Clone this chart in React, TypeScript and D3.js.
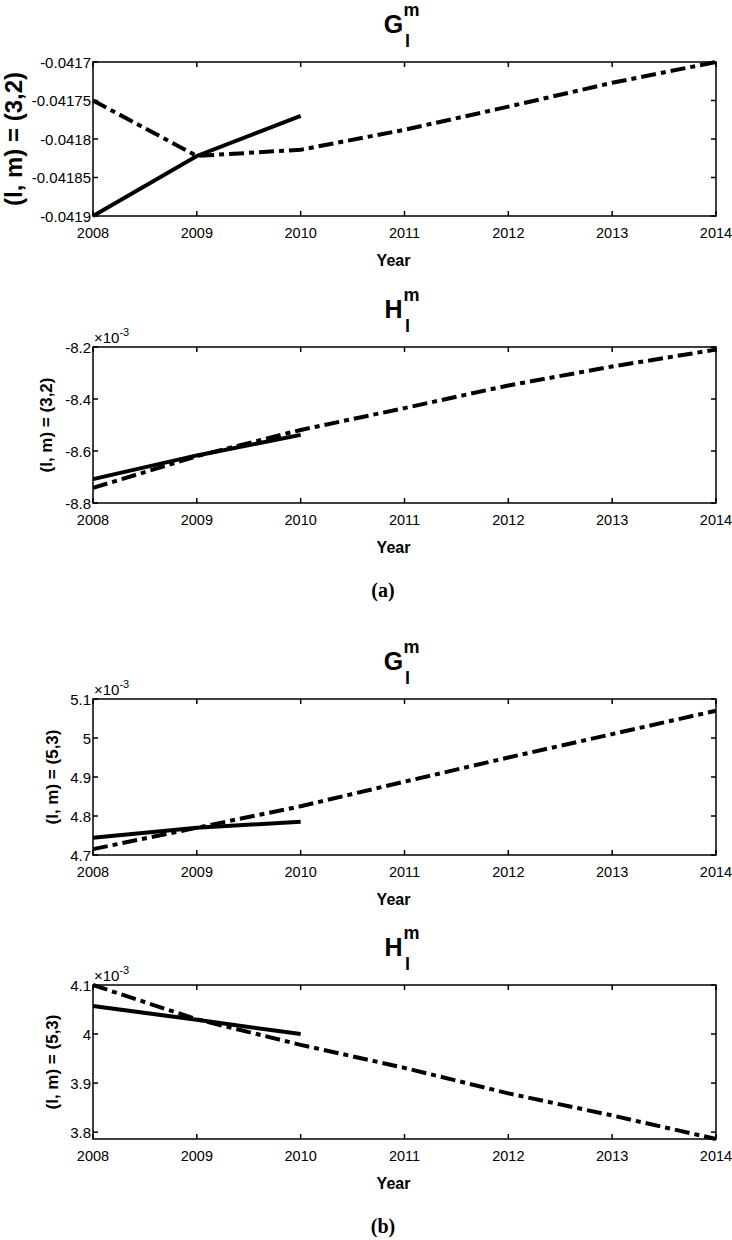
import React from "react";
import * as d3 from "d3";

const years = [2008, 2009, 2010, 2011, 2012, 2013, 2014];
const shortYears = [2008, 2009, 2010];
const xTickLabels = ["2008", "2009", "2010", "2011", "2012", "2013", "2014"];

// (l,m) = (3,2), G
const g32Solid = [-0.0419, -0.041822, -0.04177];
const g32Dash = [-0.04175, -0.041822, -0.041814, -0.041788, -0.041758, -0.041727, -0.0417];
const g32Ticks = [-0.0419, -0.04185, -0.0418, -0.04175, -0.0417];
const g32TickLabels = ["-0.0419", "-0.04185", "-0.0418", "-0.04175", "-0.0417"];

// (l,m) = (3,2), H  (x10^-3)
const h32Solid = [-8.708, -8.617, -8.538];
const h32Dash = [-8.742, -8.62, -8.519, -8.435, -8.348, -8.275, -8.21];
const h32Ticks = [-8.8, -8.6, -8.4, -8.2];
const h32TickLabels = ["-8.8", "-8.6", "-8.4", "-8.2"];

// (l,m) = (5,3), G  (x10^-3)
const g53Solid = [4.744, 4.77, 4.785];
const g53Dash = [4.715, 4.77, 4.825, 4.888, 4.95, 5.01, 5.07];
const g53Ticks = [4.7, 4.8, 4.9, 5.0, 5.1];
const g53TickLabels = ["4.7", "4.8", "4.9", "5", "5.1"];

// (l,m) = (5,3), H  (x10^-3)
const h53Solid = [4.057, 4.029, 4.0];
const h53Dash = [4.1, 4.03, 3.978, 3.931, 3.879, 3.834, 3.786];
const h53Ticks = [3.8, 3.9, 4.0, 4.1];
const h53TickLabels = ["3.8", "3.9", "4", "4.1"];

const FONT = "'Liberation Sans', Arial, Helvetica, sans-serif";

type PanelProps = {
  top: number;
  bottom: number;
  yDomain: [number, number];
  ticks: number[];
  tickLabels: string[];
  solid: number[];
  dash: number[];
  title: string;
  yLabel: string;
  yLabelSize: number;
  yLabelX: number;
  exponent: boolean;
};

const LEFT = 93;
const RIGHT = 716;

function Panel(p: PanelProps) {
  const x = d3.scaleLinear().domain([2008, 2014]).range([LEFT, RIGHT]);
  const y = d3.scaleLinear().domain(p.yDomain).range([p.bottom, p.top]);
  const line = d3
    .line<[number, number]>()
    .x((d) => x(d[0]))
    .y((d) => y(d[1]));
  const solidPts = shortYears.map((yr, i) => [yr, p.solid[i]] as [number, number]);
  const dashPts = years.map((yr, i) => [yr, p.dash[i]] as [number, number]);
  const tl = 5;
  const cx = (LEFT + RIGHT) / 2;
  return (
    <g>
      {/* title */}
      <text x={cx - 11} y={p.top - 29} fontFamily={FONT} fontWeight="bold" fontSize={25} textAnchor="middle">
        {p.title}
      </text>
      <text x={cx - 1} y={p.top - 46} fontFamily={FONT} fontWeight="bold" fontSize={18}>
        m
      </text>
      <text x={cx + 0.5} y={p.top - 15} fontFamily={FONT} fontWeight="bold" fontSize={18}>
        l
      </text>
      {/* data */}
      <path d={line(dashPts) || ""} fill="none" stroke="#000" strokeWidth={4} strokeDasharray="15,5,5,5" />
      <path d={line(solidPts) || ""} fill="none" stroke="#000" strokeWidth={4} />
      {/* frame */}
      <rect x={LEFT} y={p.top} width={RIGHT - LEFT} height={p.bottom - p.top} fill="none" stroke="#000" strokeWidth={1.5} />
      {years.map((yr, i) => (
        <g key={"xt" + yr}>
          <line x1={x(yr)} x2={x(yr)} y1={p.bottom} y2={p.bottom - tl} stroke="#000" strokeWidth={1.5} />
          <line x1={x(yr)} x2={x(yr)} y1={p.top} y2={p.top + tl} stroke="#000" strokeWidth={1.5} />
          <text x={x(yr)} y={p.bottom + 22} fontFamily={FONT} fontSize={14.5} textAnchor="middle">
            {xTickLabels[i]}
          </text>
        </g>
      ))}
      {p.ticks.map((t, i) => (
        <g key={"yt" + i}>
          <line x1={LEFT} x2={LEFT + tl} y1={y(t)} y2={y(t)} stroke="#000" strokeWidth={1.5} />
          <line x1={RIGHT} x2={RIGHT - tl} y1={y(t)} y2={y(t)} stroke="#000" strokeWidth={1.5} />
          <text x={LEFT - 2} y={y(t) + 5.5} fontFamily={FONT} fontSize={15} textAnchor="end">
            {p.tickLabels[i]}
          </text>
        </g>
      ))}
      {p.exponent && (
        <text x={LEFT + 1} y={p.top - 4} fontFamily={FONT} fontSize={15}>
          {"\u00d710"}
          <tspan dy={-7} fontSize={11}>
            -3
          </tspan>
        </text>
      )}
      <text x={cx - 11} y={p.bottom + 50} fontFamily={FONT} fontWeight="bold" fontSize={16} textAnchor="middle">
        Year
      </text>
      <text
        transform={`translate(${p.yLabelX},${(p.top + p.bottom) / 2}) rotate(-90)`}
        fontFamily={FONT}
        fontWeight="bold"
        fontSize={p.yLabelSize}
        textAnchor="middle"
        dy="0.35em"
      >
        {p.yLabel}
      </text>
    </g>
  );
}

export default function App() {
  return (
    <svg width={732} height={1240} style={{ position: "absolute", left: 0, top: 0, background: "#fff" }}>
      <rect width={732} height={1240} fill="#fff" />
      <Panel top={62} bottom={216} yDomain={[-0.0419, -0.0417]} ticks={g32Ticks} tickLabels={g32TickLabels}
        solid={g32Solid} dash={g32Dash} title="G" yLabel="(l, m) = (3,2)" yLabelSize={24} yLabelX={14} exponent={false} />
      <Panel top={347} bottom={503} yDomain={[-8.8, -8.2]} ticks={h32Ticks} tickLabels={h32TickLabels}
        solid={h32Solid} dash={h32Dash} title="H" yLabel="(l, m) = (3,2)" yLabelSize={17} yLabelX={46} exponent={true} />
      <Panel top={699} bottom={855} yDomain={[4.7, 5.1]} ticks={g53Ticks} tickLabels={g53TickLabels}
        solid={g53Solid} dash={g53Dash} title="G" yLabel="(l, m) = (5,3)" yLabelSize={17} yLabelX={52} exponent={true} />
      <Panel top={985} bottom={1139} yDomain={[3.786, 4.1]} ticks={h53Ticks} tickLabels={h53TickLabels}
        solid={h53Solid} dash={h53Dash} title="H" yLabel="(l, m) = (5,3)" yLabelSize={17} yLabelX={52} exponent={true} />
      <text x={383} y={597} fontFamily="'Liberation Serif', 'Times New Roman', serif" fontWeight="bold" fontSize={20} textAnchor="middle">
        (a)
      </text>
      <text x={383} y={1233} fontFamily="'Liberation Serif', 'Times New Roman', serif" fontWeight="bold" fontSize={20} textAnchor="middle">
        (b)
      </text>
    </svg>
  );
}
